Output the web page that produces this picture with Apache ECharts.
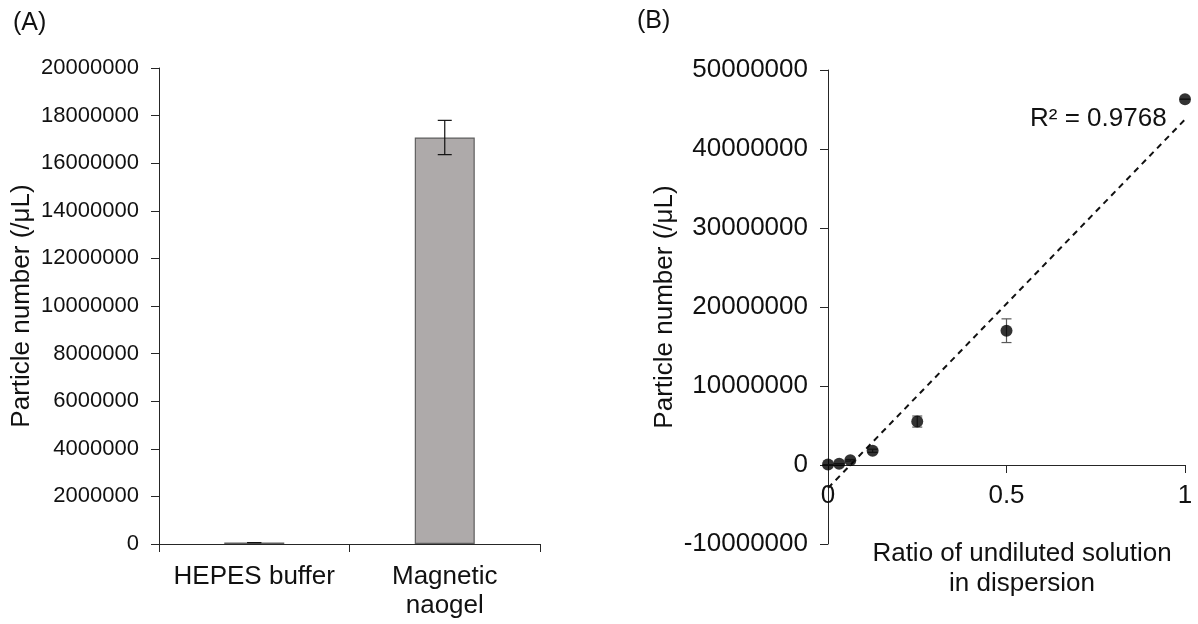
<!DOCTYPE html>
<html>
<head>
<meta charset="utf-8">
<script src="https://cdn.jsdelivr.net/npm/echarts@6/dist/echarts.min.js"></script>
<style>
html, body { margin: 0; padding: 0; background: #fff; }
#main { width: 1198px; height: 624px; }
</style>
</head>
<body>
<div id="main"></div>
<script>
// panel A: particle count per sample
var groups = ['HEPES buffer', 'Magnetic\nnaogel'];
var groupMeans = [60000, 17080000];
var groupErrors = [0, 720000];

// panel B: dilution series
var ratios = [0, 0.03125, 0.0625, 0.125, 0.25, 0.5, 1];
var counts = [50000, 150000, 600000, 1800000, 5500000, 17000000, 46300000];
var countErrors = [0, 0, 100000, 200000, 700000, 1500000, 0];
var r2Label = 'R² = 0.9768';

var FONT = 'Liberation Sans, Arial, sans-serif';
var AXIS = '#262626';

// least squares trendline through the panel B points
function linFit(xs, ys) {
  var n = xs.length, sx = 0, sy = 0, sxx = 0, sxy = 0;
  for (var i = 0; i < n; i++) {
    sx += xs[i]; sy += ys[i]; sxx += xs[i] * xs[i]; sxy += xs[i] * ys[i];
  }
  var slope = (n * sxy - sx * sy) / (n * sxx - sx * sx);
  return { slope: slope, icpt: (sy - slope * sx) / n };
}
var fit = linFit(ratios, counts);
var trend = [[0, fit.icpt], [1, fit.icpt + fit.slope]];

var barErr = groupMeans.map(function (m, i) {
  return [i, m - groupErrors[i], m + groupErrors[i]];
});
var pointErr = ratios.map(function (x, i) {
  return [x, counts[i] - countErrors[i], counts[i] + countErrors[i]];
});
var points = ratios.map(function (x, i) { return [x, counts[i]]; });

function errorBar(capW, color) {
  return function (params, api) {
    var x = api.value(0);
    var top = api.coord([x, api.value(2)]);
    var bot = api.coord([x, api.value(1)]);
    var st = { stroke: color, lineWidth: 1.2 };
    return {
      type: 'group',
      children: [
        { type: 'line', shape: { x1: top[0], y1: top[1], x2: bot[0], y2: bot[1] }, style: st },
        { type: 'line', shape: { x1: top[0] - capW / 2, y1: top[1], x2: top[0] + capW / 2, y2: top[1] }, style: st },
        { type: 'line', shape: { x1: bot[0] - capW / 2, y1: bot[1], x2: bot[0] + capW / 2, y2: bot[1] }, style: st }
      ]
    };
  };
}

var chart = echarts.init(document.getElementById('main'));
chart.setOption({
  animation: false,
  backgroundColor: '#fff',
  textStyle: { fontFamily: FONT, color: '#000' },
  grid: [
    { left: 159, top: 68, width: 381, height: 476 },
    { left: 828, top: 70, width: 357, height: 474 }
  ],
  xAxis: [
    {
      gridIndex: 0,
      type: 'category',
      data: groups,
      axisLine: { lineStyle: { color: AXIS, width: 1 } },
      axisTick: { show: true, length: 8, interval: 0, lineStyle: { color: AXIS } },
      axisLabel: { interval: 0, hideOverlap: false, fontSize: 26, color: '#111', margin: 18, lineHeight: 29, fontFamily: FONT }
    },
    {
      gridIndex: 1,
      type: 'value',
      min: 0, max: 1, interval: 0.5,
      // sits on y = 0 of the panel B value axis
      offset: -79,
      axisLine: { onZero: false, lineStyle: { color: AXIS, width: 1 } },
      axisTick: { show: true, length: 8, lineStyle: { color: AXIS } },
      axisLabel: { fontSize: 26, color: '#111', margin: 18, fontFamily: FONT },
      splitLine: { show: false }
    }
  ],
  yAxis: [
    {
      gridIndex: 0,
      type: 'value',
      min: 0, max: 20000000, interval: 2000000,
      name: 'Particle number (/μL)',
      nameLocation: 'middle',
      nameGap: 124,
      nameTextStyle: { fontSize: 26, color: '#111', fontFamily: FONT },
      axisLine: { show: true, lineStyle: { color: AXIS, width: 1 } },
      axisTick: { show: true, length: 8, lineStyle: { color: AXIS } },
      axisLabel: { fontSize: 22, color: '#111', margin: 20, fontFamily: FONT, formatter: function (v) { return String(v); } },
      splitLine: { show: false }
    },
    {
      gridIndex: 1,
      type: 'value',
      min: -10000000, max: 50000000, interval: 10000000,
      name: 'Particle number (/μL)',
      nameLocation: 'middle',
      nameGap: 150,
      nameTextStyle: { fontSize: 26, color: '#111', fontFamily: FONT },
      axisLine: { show: true, onZero: false, lineStyle: { color: AXIS, width: 1 } },
      axisTick: { show: true, length: 8, lineStyle: { color: AXIS } },
      axisLabel: { fontSize: 26, color: '#111', margin: 20, fontFamily: FONT, formatter: function (v) { return String(v); } },
      splitLine: { show: false }
    }
  ],
  graphic: [
    { type: 'text', left: 13, top: 11, style: { text: '(A)', font: '25px ' + FONT, fill: '#111' } },
    { type: 'text', left: 637, top: 9, style: { text: '(B)', font: '25px ' + FONT, fill: '#111' } },
    { type: 'text', left: 1030, top: 106, style: { text: r2Label, font: '26px ' + FONT, fill: '#111' } },
    {
      type: 'text', x: 1022, y: 539,
      style: {
        text: 'Ratio of undiluted solution\nin dispersion',
        font: '26px ' + FONT, fill: '#111', align: 'center', lineHeight: 30
      }
    }
  ],
  series: [
    {
      type: 'bar',
      xAxisIndex: 0, yAxisIndex: 0,
      data: groupMeans,
      barWidth: 60,
      itemStyle: { color: '#AEAAAA', borderColor: '#5f5f5f', borderWidth: 1.2 }
    },
    {
      type: 'custom',
      xAxisIndex: 0, yAxisIndex: 0,
      renderItem: errorBar(14, '#111'),
      encode: { x: 0, y: [1, 2] },
      data: barErr,
      z: 5
    },
    {
      type: 'line',
      xAxisIndex: 1, yAxisIndex: 1,
      data: trend,
      symbol: 'none',
      lineStyle: { color: '#111', width: 2, type: [6, 5] },
      z: 2
    },
    {
      type: 'custom',
      xAxisIndex: 1, yAxisIndex: 1,
      renderItem: errorBar(10, '#595959'),
      encode: { x: 0, y: [1, 2] },
      data: pointErr,
      z: 3
    },
    {
      type: 'scatter',
      xAxisIndex: 1, yAxisIndex: 1,
      data: points,
      symbol: 'circle',
      symbolSize: 12,
      itemStyle: { color: '#000' },
      z: 4
    }
  ]
});
</script>
</body>
</html>
